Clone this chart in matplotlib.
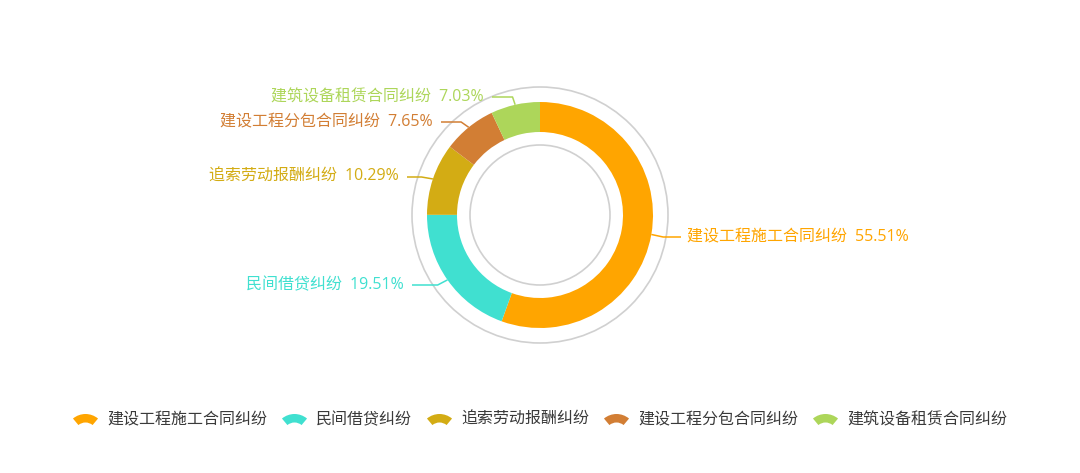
import numpy as np
import matplotlib.pyplot as plt
from matplotlib.patches import Circle, Wedge

plt.rcParams['font.family'] = ['Open Sans', 'Noto Sans CJK SC', 'DejaVu Sans']

categories = ['建设工程施工合同纠纷', '民间借贷纠纷', '追索劳动报酬纠纷',
              '建设工程分包合同纠纷', '建筑设备租赁合同纠纷']
shares = [55.51, 19.51, 10.29, 7.65, 7.03]
colors = ['#FFA500', '#40E0D0', '#D3AC14', '#D27E34', '#ADD65A']

W, H = 1080, 473
fig = plt.figure(figsize=(W / 100, H / 100), dpi=100)
ax = fig.add_axes([0, 0, 1, 1])

# work in pixel units, y measured from the top
cx, cy = 540, H - 215
r_out, r_in = 113, 83

ax.pie(shares, colors=colors, startangle=90, counterclock=False,
       radius=r_out, center=(cx, cy),
       wedgeprops=dict(width=r_out - r_in, edgecolor='none', linewidth=0))

# decorative rings
ax.add_patch(Circle((cx, cy), 128, fill=False, ec='#d0d0d0', lw=1.2))
ax.add_patch(Circle((cx, cy), 70, fill=False, ec='#d0d0d0', lw=1.2))

# label placement: text edge x, text centre y (from top), side
label_pos = [(687, 237, 'left'), (404, 285, 'right'), (399, 177, 'right'),
             (433, 122, 'right'), (484, 97, 'right')]

fs = 11.5
cum = 0.0
for v, name, c, (lx, ly, side) in zip(shares, categories, colors, label_pos):
    theta = np.deg2rad(90 - 360 * (cum + v / 2) / 100)
    cum += v
    x0, y0 = cx + r_out * np.cos(theta), cy + r_out * np.sin(theta)
    ex = cx + 125 * np.cos(theta)
    ey = H - ly
    if side == 'left':
        x_end = lx - 6
    else:
        x_end = lx + 8
    ax.plot([x0, ex, x_end], [y0, ey, ey], color=c, lw=1.1,
            solid_capstyle='butt')
    ax.text(lx, ey, f'{name}\u2002{v:.2f}%', color=c, fontsize=fs,
            ha=side, va='center')

# legend row, centred
fig.canvas.draw()
renderer = fig.canvas.get_renderer()
marker_w, gap1, gap2 = 25, 9, 15
texts = []
widths = []
for name in categories:
    t = ax.text(0, 0, name, fontsize=fs, color='#3a3a3a', va='center')
    widths.append(t.get_window_extent(renderer).width)
    texts.append(t)
total = sum(marker_w + gap1 + w for w in widths) + gap2 * (len(widths) - 1)
x = cx - total / 2
ly = H - 420
for t, w, c in zip(texts, widths, colors):
    ax.add_patch(Wedge((x + marker_w / 2, ly - 13.5), 19.5, 50, 130, width=8.5,
                       fc=c, ec='none'))
    t.set_position((x + marker_w + gap1, ly))
    x += marker_w + gap1 + w + gap2

ax.set_xlim(0, W)
ax.set_ylim(0, H)
ax.set_aspect('equal')
ax.axis('off')
fig.savefig('out.png', dpi=100, facecolor='white')
